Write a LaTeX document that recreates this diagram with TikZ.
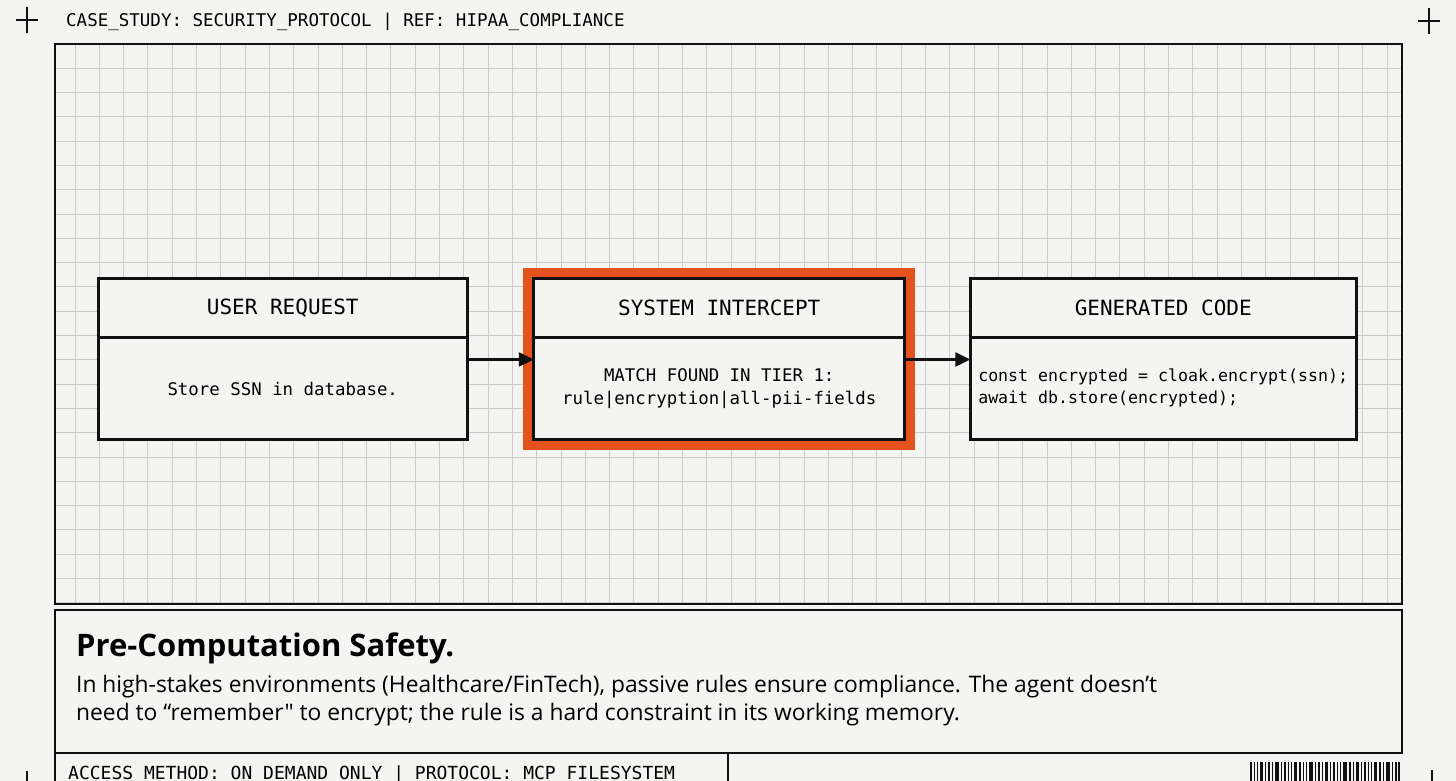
\documentclass[tikz,border=0pt]{standalone}
\usepackage{fontspec}
\setmainfont{Open Sans}
\setsansfont{Open Sans}[Ligatures=TeXOff]
\setmonofont{DejaVu Sans Mono}
\usetikzlibrary{arrows.meta,positioning}

\definecolor{paper}{HTML}{F4F4F2}
\definecolor{gridc}{HTML}{CBCBC9}
\definecolor{ink}{HTML}{111111}
\definecolor{alert}{HTML}{E5521E}

\begin{document}
\begin{tikzpicture}[
  x=1pt, y=1pt,
  box/.style={draw=ink, line width=3pt, fill=paper, minimum height=161pt, inner sep=0pt, outer sep=0pt},
  boxhd/.style={inner sep=0pt, minimum height=58pt, font=\ttfamily\fontsize{21}{25}\selectfont},
  boxbody/.style={inner sep=0pt, minimum height=103pt, align=center, font=\ttfamily\fontsize{17.4}{23}\selectfont},
  divider/.style={draw=ink, line width=2.5pt},
  arr/.style={-{Triangle[length=15pt,width=14pt]}, draw=ink, line width=2.5pt},
  mono/.style={inner sep=0pt, font=\ttfamily\fontsize{17.5}{21}\selectfont},
  frame/.style={draw=ink, line width=2.5pt},
  cross/.style={draw=ink, line width=2pt}
]
\useasboundingbox (0,0) rectangle (1456,781);
\fill[paper] (0,0) rectangle (1456,781);

% --- header strip ---
\node[mono, anchor=west] (hdr) at (66,759) {CASE\_STUDY: SECURITY\_PROTOCOL | REF: HIPAA\_COMPLIANCE};
\foreach \cx/\cy in {27/761, 1429/760, 27/-3, 1432/-2}
  \draw[cross] (\cx-11,\cy) -- (\cx+11,\cy) (\cx,\cy-13) -- (\cx,\cy+13);

% --- grid panel ---
\begin{scope}[shift={(75,178.1)}]
  \clip (-20,-1.1) rectangle (1327,558.9);
  \draw[gridc, line width=1pt, step=24.3pt] (-40,-30) grid (1340,570);
\end{scope}
\draw[frame] (55,177) rectangle (1402,737);

% --- flow ---
\node[box, minimum width=369pt] (ureq) at (282.75,421.5) {};
\node[boxhd, minimum width=369pt, anchor=north] (ureqhd) at (ureq.north) {USER REQUEST};
\node[boxbody, minimum width=369pt, below=0pt of ureqhd] (ureqtxt) {Store SSN in database.};
\draw[divider] (ureqhd.south west) -- (ureqhd.south east);

\node[box, minimum width=371pt, right=66.5pt of ureq] (sint) {};
\draw[alert, line width=9pt] ([shift={(-6pt,6pt)}]sint.north west) rectangle ([shift={(6pt,-6pt)}]sint.south east);
\node[boxhd, minimum width=371pt, anchor=north] (sinthd) at (sint.north) {SYSTEM INTERCEPT};
\node[boxbody, minimum width=371pt, below=0pt of sinthd] (sinttxt) {MATCH FOUND IN TIER 1:\\rule|encryption|all-pii-fields};
\draw[divider] (sinthd.south west) -- (sinthd.south east);

\node[box, minimum width=386pt, right=65.5pt of sint] (gcode) {};
\node[boxhd, minimum width=386pt, anchor=north] (gcodehd) at (gcode.north) {GENERATED CODE};
\node[boxbody, align=left, anchor=west, font=\ttfamily\fontsize{16.6}{22}\selectfont]
  (gcodetxt) at ([xshift=8pt, yshift=-50pt]gcodehd.south west) {const encrypted = cloak.encrypt(ssn);\\await db.store(encrypted);};
\draw[divider] (gcodehd.south west) -- (gcodehd.south east);

\draw[arr] (ureq) -- (sint);
\draw[arr] (sint) -- (gcode);

% --- text panel ---
\draw[frame] (55,28) rectangle (1402,171);
\node[anchor=base west, inner sep=0pt, font=\sffamily\bfseries\fontsize{31}{36}\selectfont] (ttl) at (76,124) {Pre-Computation Safety.};
\node[anchor=north west, inner sep=0pt, align=left, font=\sffamily\fontsize{22.8}{28}\selectfont] (desc) at (76,106)
  {In high-stakes environments (Healthcare/FinTech), passive rules ensure compliance. The agent doesn’t\\need to “remember" to encrypt; the rule is a hard constraint in its working memory.};

% --- footer ---
\draw[frame] (55,28) -- (55,0) (728,28) -- (728,0);
\node[anchor=base west, inner sep=0pt, font=\ttfamily\fontsize{18}{21}\selectfont] (ftr) at (68,1) {ACCESS METHOD: ON DEMAND ONLY | PROTOCOL: MCP FILESYSTEM};
\foreach \bx/\bw in {0/2, 4/1, 7/1, 10/3, 15/1, 18/2, 22/1, 25/4, 31/1, 34/2, 38/1, 41/1, 44/3, 49/2, 53/1, 56/1, 59/4, 65/1, 68/2, 72/1, 75/3, 80/1, 83/2, 87/1, 90/1, 93/4, 99/2, 103/1, 106/3, 111/1, 114/2, 118/1, 121/1, 124/3, 129/2, 133/1, 136/4, 142/1, 145/2, 148/2}
  \fill[ink] (1250+\bx,0) rectangle ++(\bw,19);

\end{tikzpicture}
\end{document}
